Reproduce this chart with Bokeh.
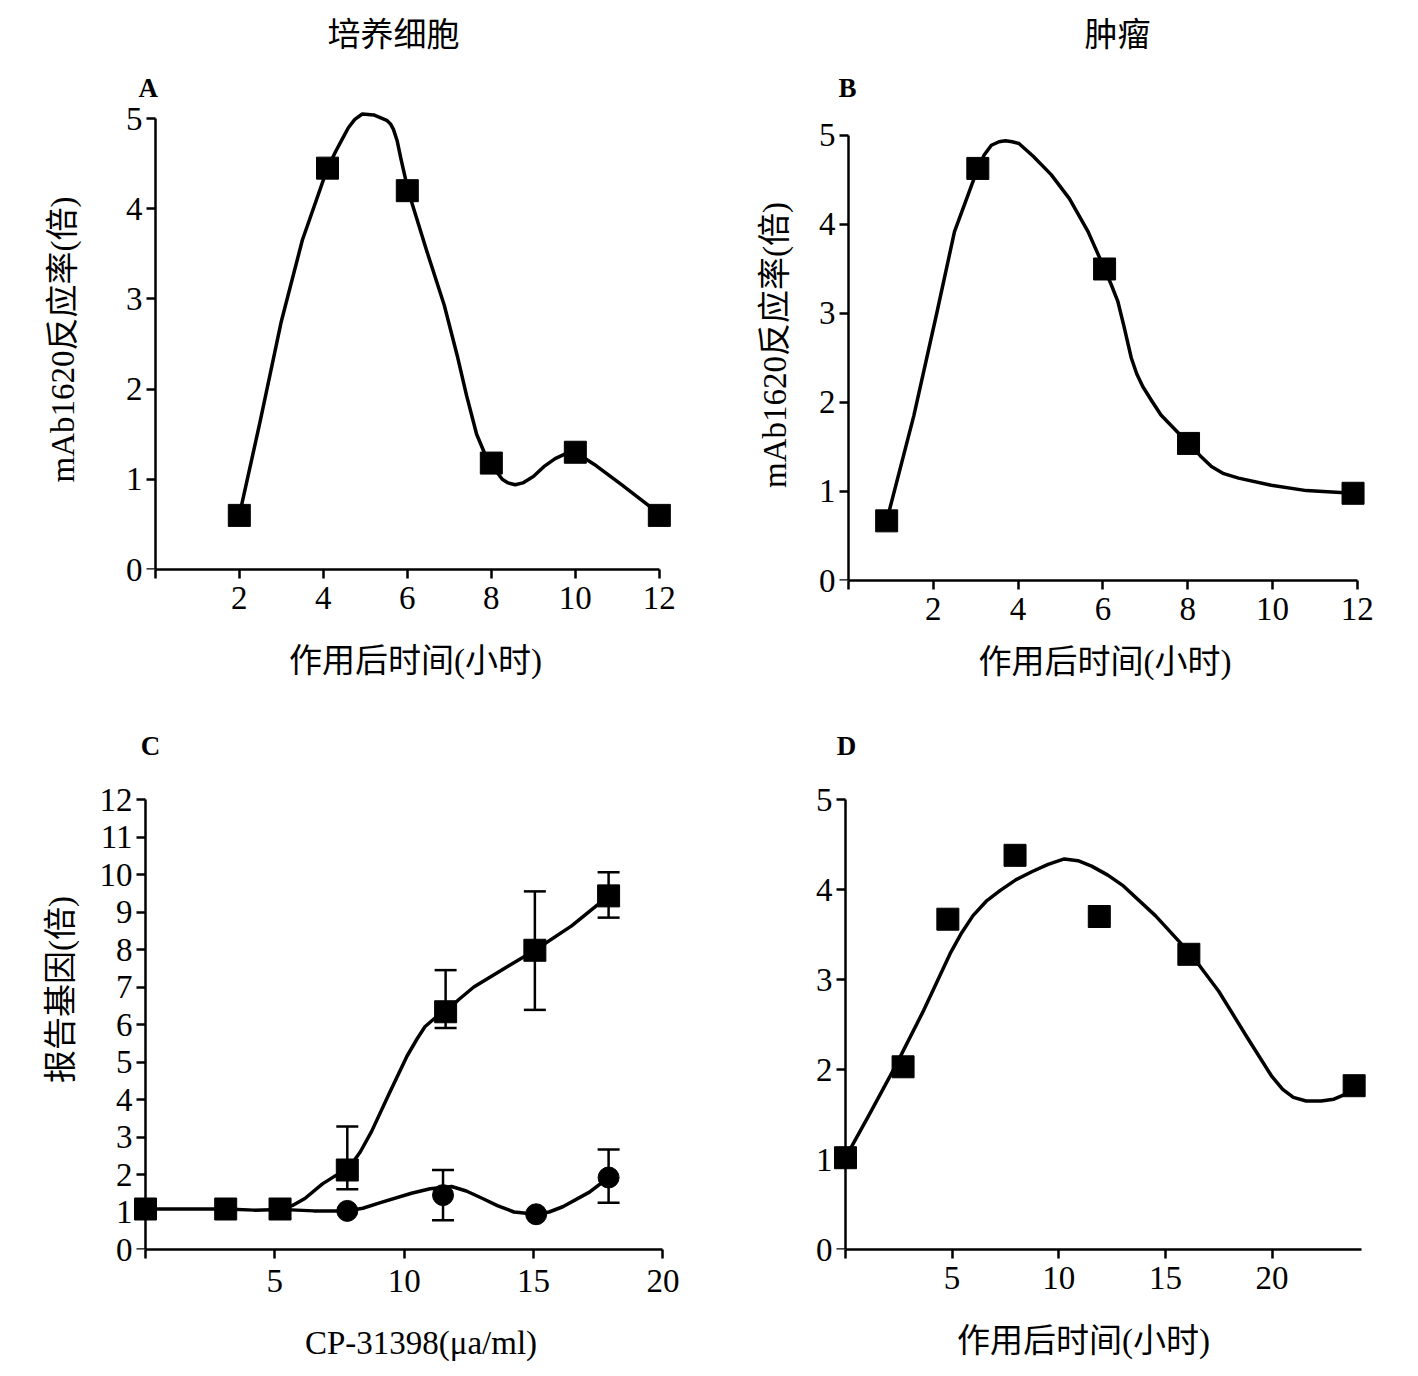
from bokeh.plotting import figure
from bokeh.layouts import row, column
from bokeh.models import (Range1d, FixedTicker, Label, Whisker, TeeHead, ColumnDataSource,
                          LinearAxis, Title)
from bokeh.embed import file_html
from bokeh.resources import INLINE

FONT = "Liberation Serif, Noto Sans CJK SC"

# ---------------- data ----------------
title_left = "培养细胞"
title_right = "肿瘤"
xlabel_time = "作用后时间(小时)"
ylabel_mab = "mAb1620反应率(倍)"
ylabel_rep = "报告基因(倍)"
xlabel_cp = "CP-31398(μa/ml)"

# Panel A
A_x = [2, 4.1, 6, 8, 10, 12]
A_y = [0.6, 4.45, 4.2, 1.18, 1.3, 0.6]
A_fit_x = [2, 2.5, 3.0, 3.5, 4.1, 4.3, 4.46, 4.6, 4.75, 4.93, 5.2, 5.51, 5.6, 5.67, 5.76, 5.85, 6.02,
           6.45, 6.88, 7.2, 7.41, 7.55, 7.65, 7.83, 8.02, 8.26, 8.4, 8.57, 8.75, 9.0, 9.25, 9.52, 9.75,
           10.0, 10.5, 11.1, 12.05]
A_fit_y = [0.6, 1.65, 2.75, 3.65, 4.45, 4.64, 4.78, 4.9, 4.99, 5.05, 5.04, 4.98, 4.94, 4.88, 4.75, 4.55, 4.2,
           3.55, 2.93, 2.35, 1.93, 1.68, 1.5, 1.3, 1.15, 1.0, 0.96, 0.94, 0.96, 1.03, 1.14, 1.23, 1.28,
           1.3, 1.15, 0.94, 0.6]
A_xticks = [0, 2, 4, 6, 8, 10, 12]
A_yticks = [0, 1, 2, 3, 4, 5]

# Panel B
B_x = [0.9, 3.05, 6.04, 8.02, 11.9]
B_y = [0.67, 4.63, 3.5, 1.54, 0.98]
B_fit_x = [0.9, 1.54, 2.08, 2.5, 3.05, 3.2, 3.37, 3.55, 3.7, 3.86, 4.02, 4.35, 4.78, 5.21, 5.65, 6.04,
           6.2, 6.35, 6.5, 6.67, 6.8, 6.94, 7.15, 7.37, 8.02, 8.3, 8.56, 8.85, 9.2, 9.97, 10.8, 11.9]
B_fit_y = [0.67, 1.85, 3.0, 3.92, 4.63, 4.78, 4.89, 4.93, 4.94, 4.93, 4.91, 4.77, 4.56, 4.29, 3.92, 3.5,
           3.32, 3.14, 2.85, 2.5, 2.32, 2.18, 2.02, 1.86, 1.54, 1.4, 1.28, 1.2, 1.15, 1.07, 1.01, 0.98]
B_xticks = [0, 2, 4, 6, 8, 10, 12]
B_yticks = [0, 1, 2, 3, 4, 5]

# Panel C
C_sq_x = [0, 3.1, 5.2, 7.8, 11.6, 15.05, 17.9]
C_sq_y = [1.08, 1.08, 1.08, 2.12, 6.34, 7.98, 9.43]
C_sq_err_x = [7.8, 11.6, 15.05, 17.9]
C_sq_err_hi = [3.28, 7.45, 9.55, 10.06]
C_sq_err_lo = [1.61, 5.91, 6.39, 8.85]
C_sq_fit_x = [0, 3.1, 4.2, 5.2, 5.7, 6.16, 6.84, 7.3, 7.8, 8.3, 8.74, 9.42, 10.11, 10.5, 10.8, 11.2, 11.6,
              12.1, 12.69, 13.9, 15.05, 16.47, 17.9]
C_sq_fit_y = [1.08, 1.08, 1.05, 1.07, 1.18, 1.36, 1.75, 1.95, 2.12, 2.6, 3.15, 4.16, 5.16, 5.62, 5.94, 6.18, 6.34,
              6.66, 7.0, 7.51, 7.98, 8.63, 9.43]
C_ci_x = [0, 3.1, 5.2, 7.8, 11.5, 15.1, 17.9]
C_ci_y = [1.08, 1.08, 1.08, 1.03, 1.45, 0.94, 1.92]
C_ci_err_x = [11.5, 17.9]
C_ci_err_hi = [2.12, 2.67]
C_ci_err_lo = [0.78, 1.25]
C_ci_fit_x = [5.2, 6.5, 7.8, 8.4, 9.08, 10.28, 11.0, 11.83, 12.4, 13.03, 13.6, 14.24, 15.1, 15.6, 16.13,
              17.16, 17.9]
C_ci_fit_y = [1.07, 1.03, 1.03, 1.1, 1.25, 1.5, 1.62, 1.68, 1.56, 1.36, 1.17, 1.0, 0.94, 1.0, 1.14,
              1.53, 1.92]
C_xticks = [0, 5, 10, 15, 20]
C_yticks = list(range(0, 13))

# Panel D
D_x = [0, 2.7, 4.8, 7.95, 11.9, 16.1, 23.85]
D_y = [1.02, 2.03, 3.67, 4.38, 3.7, 3.28, 1.82]
D_fit_x = [0, 1.07, 2.35, 3.63, 4.91, 5.45, 5.98, 6.6, 7.26, 8.0, 8.76, 9.5, 10.26, 10.9, 11.54, 12.3,
           13.03, 14.53, 16.2, 17.5, 18.8, 20.0, 20.5, 21.0, 21.6, 22.3, 22.9, 23.4, 23.85]
D_fit_y = [1.02, 1.48, 2.04, 2.64, 3.29, 3.52, 3.71, 3.87, 3.99, 4.11, 4.2, 4.28, 4.34, 4.32, 4.26, 4.16,
           4.04, 3.71, 3.28, 2.87, 2.37, 1.92, 1.78, 1.69, 1.65, 1.65, 1.67, 1.72, 1.82]
D_xticks = [0, 5, 10, 15, 20]
D_yticks = [0, 1, 2, 3, 4, 5]

LW = 3.5
TICK_FS = "33px"
LABEL_FS = "33px"
LETTER_FS = "27px"


def style_axis(ax):
    ax.axis_line_width = 2.5
    ax.axis_line_color = "black"
    ax.major_tick_line_width = 2.5
    ax.major_tick_line_color = "black"
    ax.major_tick_out = 9
    ax.major_tick_in = 0
    ax.minor_tick_line_color = None
    ax.major_label_text_font = FONT
    ax.major_label_text_font_size = TICK_FS
    ax.major_label_text_color = "black"
    ax.axis_label_text_font = FONT
    ax.axis_label_text_font_size = LABEL_FS
    ax.axis_label_text_font_style = "normal"
    ax.axis_label_text_color = "black"
    ax.major_label_standoff = 4


def make_panel(h, xr, yr, left, right, top, bottom, xticks, xbounds, yticks, ybounds,
               xlabel, ylabel, xtick_standoff, xlabel_standoff, ylabel_standoff, ylab_standoff):
    p = figure(width=709, height=h, x_range=Range1d(*xr), y_range=Range1d(*yr),
               output_backend="svg", toolbar_location=None,
               min_border_left=left, min_border_right=right,
               min_border_top=top, min_border_bottom=bottom)
    p.grid.visible = False
    p.outline_line_color = None
    # bottom axis
    xa = p.xaxis[0]
    style_axis(xa)
    xa.ticker = FixedTicker(ticks=xticks)
    xa.major_label_overrides = {0: ""}
    xa.bounds = xbounds
    xa.major_label_standoff = xtick_standoff
    xa.axis_label = xlabel
    xa.axis_label_standoff = xlabel_standoff
    # left axis at the frame edge: tick labels and title only
    ya = p.yaxis[0]
    style_axis(ya)
    ya.ticker = FixedTicker(ticks=yticks)
    ya.bounds = ybounds
    ya.axis_line_color = None
    ya.major_tick_line_color = None
    ya.major_tick_out = 0
    ya.major_label_standoff = ylab_standoff
    if ylabel:
        ya.axis_label = ylabel
        ya.axis_label_standoff = ylabel_standoff
    # the visible y axis line and ticks, located at x = 0
    ya2 = LinearAxis(ticker=FixedTicker(ticks=yticks), bounds=ybounds, fixed_location=0)
    style_axis(ya2)
    ya2.major_label_overrides = {t: "" for t in yticks}
    ya2.major_label_standoff = 0
    p.add_layout(ya2, "left")
    return p


def add_label(p, x, y, text, size=LABEL_FS, style="normal"):
    p.add_layout(Label(x=x, y=y, text=text, text_font=FONT, text_font_size=size,
                       text_font_style=style, text_align="center", text_baseline="middle",
                       text_color="black"))


def add_titles(p, letter, letter_offset, letter_standoff, title, title_offset, title_standoff):
    p.add_layout(Title(text=letter, align="left", offset=letter_offset, standoff=letter_standoff,
                       text_font=FONT, text_font_size=LETTER_FS, text_font_style="bold",
                       text_color="black"), "above")
    p.add_layout(Title(text=title, align="left", offset=title_offset, standoff=title_standoff,
                       text_font=FONT, text_font_size=LABEL_FS, text_font_style="normal",
                       text_color="black"), "above")


def add_err(p, xs, hi, lo):
    p.add_layout(Whisker(source=ColumnDataSource(dict(base=xs, upper=hi, lower=lo)),
                         base="base", upper="upper", lower="lower", line_width=2.5, line_color="black",
                         upper_head=TeeHead(size=22, line_width=2.5, line_color="black"),
                         lower_head=TeeHead(size=22, line_width=2.5, line_color="black")))


# ---------- A ----------
pA = make_panel(688, (-0.4, 12.79), (0, 5.1), 138, 17, 109, 119, A_xticks, (0, 12), A_yticks, (0, 5),
                xlabel_time, ylabel_mab, 8, 31, 42, -4)
pA.line(A_fit_x, A_fit_y, line_width=LW, color="black", line_join="round")
pA.scatter(A_x, A_y, marker="square", size=22, color="black")
add_titles(pA, "A", 0, 13, title_left, 189, 23)

# ---------- B ----------
pB = make_panel(699, (-0.3066, 12.406), (0, 5.292), 126, 44, 109, 119, B_xticks, (0, 12), B_yticks, (0, 5),
                xlabel_time, ylabel_mab, 8, 21, 23, 0)
pB.line(B_fit_x, B_fit_y, line_width=LW, color="black", line_join="round")
pB.scatter(B_x, B_y, marker="square", size=22, color="black")
add_titles(pB, "B", 3, 13, title_right, 249, 23)

# ---------- C ----------
pC = make_panel(677, (-0.5025, 21.8), (0, 13.867), 132, 0, 30, 127, C_xticks, (0, 20), C_yticks, (0, 12),
                xlabel_cp, ylabel_rep, 11, 30, 18, 0)
add_err(pC, C_sq_err_x, C_sq_err_hi, C_sq_err_lo)
add_err(pC, C_ci_err_x, C_ci_err_hi, C_ci_err_lo)
pC.line(C_ci_fit_x, C_ci_fit_y, line_width=LW, color="black", line_join="round")
pC.line(C_sq_fit_x, C_sq_fit_y, line_width=LW, color="black", line_join="round")
pC.scatter(C_ci_x, C_ci_y, marker="circle", size=21, color="black")
pC.scatter(C_sq_x, C_sq_y, marker="square", size=22, color="black")
add_label(pC, 0.19, 13.44, "C", size=LETTER_FS, style="bold")

# ---------- D ----------
pD = make_panel(677, (-2.25, 24.57), (0, 5.778), 88, 49, 30, 127, D_xticks, (0, 24.2), D_yticks, (0, 5),
                xlabel_time, None, 8, 31, 20, -35)
pD.line(D_fit_x, D_fit_y, line_width=LW, color="black", line_join="round")
pD.scatter(D_x, D_y, marker="square", size=22, color="black")
add_label(pD, 0.047, 5.6, "D", size=LETTER_FS, style="bold")

layout = column(row(pA, pB), row(pC, pD))

open("out.html", "w").write(file_html(layout, INLINE))
